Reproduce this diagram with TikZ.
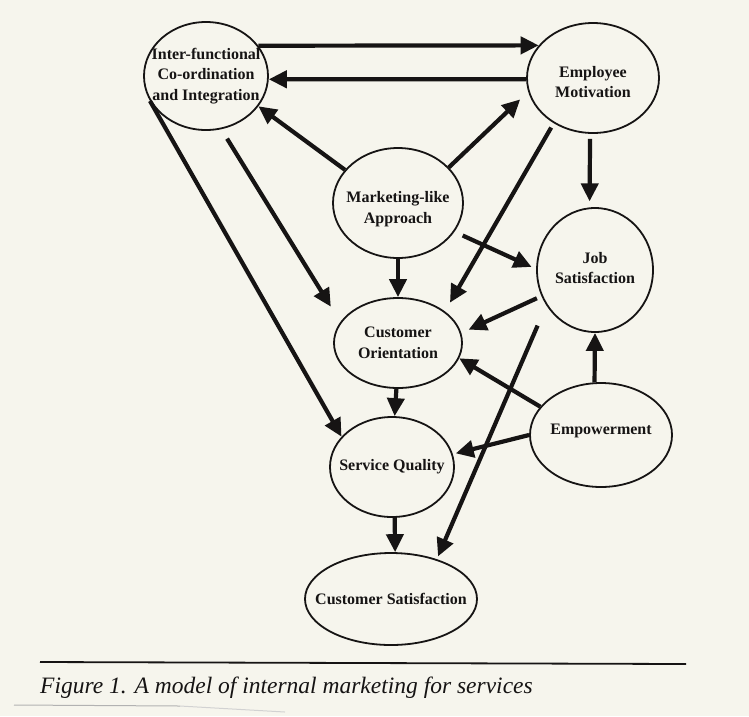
\documentclass[tikz,border=0pt]{standalone}
\usepackage{fontspec}
\setmainfont{Liberation Serif}
\usetikzlibrary{shapes.geometric,arrows.meta}
\definecolor{paper}{RGB}{246,245,237}
\definecolor{ink}{RGB}{22,20,20}
\begin{document}
\begin{tikzpicture}[x=1pt,y=-1pt,
  concept/.style={draw=ink, line width=1.8pt, ellipse, inner sep=0pt},
  tx/.style={text=ink, align=center, inner sep=0pt, font=\fontsize{16}{20.5}\selectfont\bfseries},
  link/.style={draw=ink, line width=4.2pt, -{Triangle[length=18pt,width=17pt]}},
]
\fill[paper] (0,0) rectangle (749,716);
\useasboundingbox (0,0) rectangle (749,716);

% concepts of the model
\node[concept, minimum width=124pt, minimum height=108pt,
  label={[tx]center:Inter-functional\\Co-ordination\\and Integration}] (ifc) at (206,76) {};
\node[concept, minimum width=132pt, minimum height=110pt,
  label={[tx, yshift=-4pt]center:Employee\\Motivation}] (em) at (593,78) {};
\node[concept, minimum width=130pt, minimum height=110pt,
  label={[tx, yshift=-6pt]center:Marketing-like\\Approach}] (mla) at (398,203) {};
\node[concept, minimum width=116pt, minimum height=124pt,
  label={[tx, yshift=2pt]center:Job\\Satisfaction}] (js) at (595,270) {};
\node[concept, minimum width=128pt, minimum height=90pt,
  label={[tx]center:Customer\\Orientation}] (co) at (398,343) {};
\node[concept, minimum width=124pt, minimum height=100pt,
  label={[tx]center:Service Quality}] (sq) at (392,467) {};
\node[concept, minimum width=142pt, minimum height=104pt,
  label={[tx, yshift=4pt]center:Empowerment}] (emp) at (601,435) {};
\node[concept, minimum width=172pt, minimum height=92pt,
  label={[tx]center:Customer Satisfaction}] (cs) at (391,599) {};

% relationships
\draw[link] (ifc.30) -- (em.149);
\draw[link] (em.181) -- (ifc.-3);
\draw[link] (mla.148) -- (ifc.-30);
\draw[link, shorten >=11pt] (mla.35) -- (em.-168);
\draw[link, shorten <=11pt, shorten >=18pt] (ifc.-74) -- (co.160);
\draw[link] (ifc.204) -- (sq.149);
\draw[link, shorten <=5pt, shorten >=10pt] (em.229) -- (co.34);
\draw[link, shorten <=5pt, shorten >=6pt] (em.267) -- (js.95);
\draw[link, shorten <=9pt, shorten >=5pt] (mla.-27) -- (js.179);
\draw[link] (mla) -- (co);
\draw[link, shorten <=5pt, shorten >=8pt] (js.206) -- (co.9);
\draw[link, shorten <=22pt, shorten >=3pt] (js.216) -- (cs.41);
\draw[link] (emp.97) -- (js.south);
\draw[link] (emp.155) -- (co.-14);
\draw[link, shorten >=3pt] (emp.180) -- (sq.12.5);
\draw[link] (co.268) -- (sq.87);
\draw[link] (sq.-87) -- (cs.85);

% caption
\draw[ink, line width=1.8pt] (40,662) -- (686,664);
\node[anchor=base west, inner sep=0pt, text=ink,
  font=\fontsize{23.5}{28}\selectfont\itshape] (caption) at (40,693)
  {Figure 1. A model of internal marketing for services};
\draw[gray!60, line width=1pt] (14,705) -- (180,706);
\draw[gray!35, line width=1pt] (180,706) -- (285,712);
\end{tikzpicture}
\end{document}
